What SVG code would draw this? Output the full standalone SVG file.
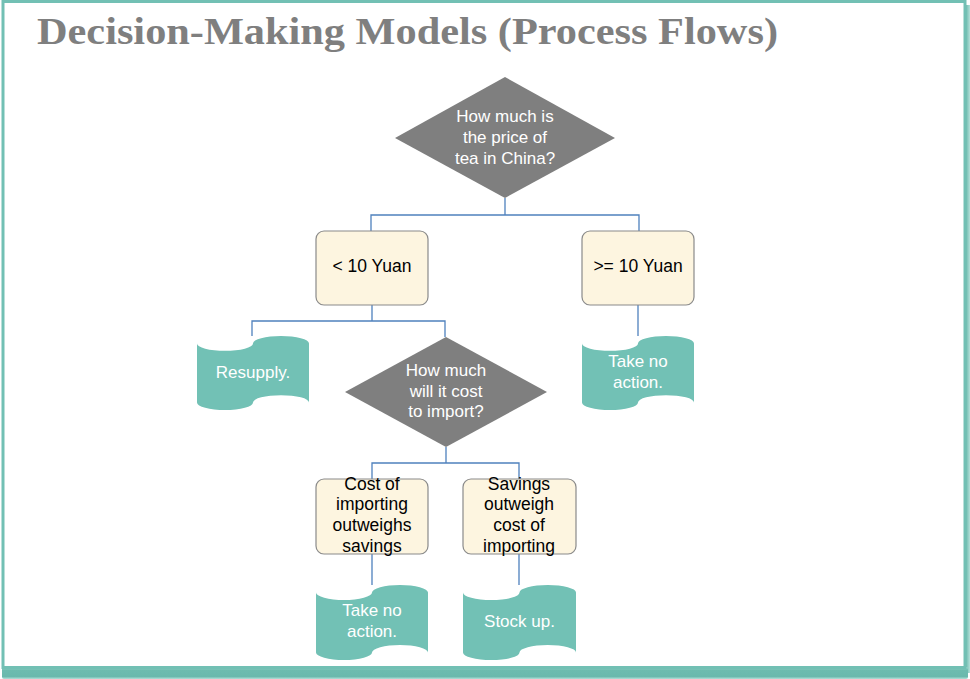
<svg xmlns="http://www.w3.org/2000/svg" width="970" height="679" viewBox="0 0 970 679">
<defs>
<linearGradient id="shB" x1="0" y1="0" x2="0" y2="1">
<stop offset="0" stop-color="#a9dcd3"/>
<stop offset="0.25" stop-color="#6dbcaf"/>
<stop offset="0.8" stop-color="#6ab9ad"/>
<stop offset="1" stop-color="#b5e0d9"/>
</linearGradient>
<linearGradient id="shR" x1="0" y1="0" x2="1" y2="0">
<stop offset="0" stop-color="#6dbcaf"/>
<stop offset="1" stop-color="#b5e0d9"/>
</linearGradient>
<style>
.dia{fill:#7f7f7f;}
.box{fill:#fdf5e0;stroke:#8a8a8a;stroke-width:1.2;}
.tape{fill:#72c1b5;}
.conn{fill:none;stroke:#4f81bd;stroke-width:1.3;}
.tw{font-family:"Liberation Sans","Noto Sans",Arial,sans-serif;font-size:17px;fill:#ffffff;text-anchor:middle;}
.tb{font-family:"Liberation Sans","Noto Sans",Arial,sans-serif;font-size:17.5px;fill:#000000;text-anchor:middle;}
.title{font-family:"Liberation Serif","Times New Roman",serif;font-weight:bold;font-size:38px;fill:#7f7f7f;}
</style>
</defs>
<g id="frame">
<rect x="966" y="5" width="4" height="668" fill="url(#shR)"/>
<rect x="2" y="667" width="966" height="12" rx="2" fill="url(#shB)"/>
<rect x="3" y="1.5" width="962" height="666" fill="#ffffff" stroke="#72c0b4" stroke-width="3"/>
</g>
<text id="title" class="title" x="37" y="44" textLength="741" lengthAdjust="spacingAndGlyphs">Decision-Making Models (Process Flows)</text>
<g id="connectors">
<path class="conn" d="M505,198 V215 M371,231 V215 H639 V231"/>
<path class="conn" d="M372,305 V321 M252,336 V321 H445 V337"/>
<path class="conn" d="M638,305 V336"/>
<path class="conn" d="M446,447 V463 M372,479 V463 H519 V479"/>
<path class="conn" d="M372,554 V585 M519,554 V585"/>
</g>
<g id="q1">
<polygon class="dia" points="505,77 615,138 505,198 395,138"/>
<text class="tw" x="505" y="122">How much is</text>
<text class="tw" x="505" y="143">the price of</text>
<text class="tw" x="505" y="164">tea in China?</text>
</g>
<g id="lt10">
<rect class="box" x="316" y="231" width="112" height="74" rx="8"/>
<text class="tb" x="372" y="272">&lt; 10 Yuan</text>
</g>
<g id="ge10">
<rect class="box" x="582" y="231" width="112" height="74" rx="8"/>
<text class="tb" x="638" y="272">&gt;= 10 Yuan</text>
</g>
<g id="resupply">
<path class="tape" d="M197,343.4 A28,7.4 0 0 0 253,343.4 A28,7.4 0 0 1 309,343.4 L309,402.6 A28,7.4 0 0 0 253,402.6 A28,7.4 0 0 1 197,402.6 Z"/>
<text class="tw" x="253" y="378">Resupply.</text>
</g>
<g id="noaction1">
<path class="tape" d="M582,343.4 A28,7.4 0 0 0 638,343.4 A28,7.4 0 0 1 694,343.4 L694,402.6 A28,7.4 0 0 0 638,402.6 A28,7.4 0 0 1 582,402.6 Z"/>
<text class="tw" x="638" y="367">Take no</text>
<text class="tw" x="638" y="388">action.</text>
</g>
<g id="q2">
<polygon class="dia" points="446,337 547,392 446,447 345,392"/>
<text class="tw" x="446" y="376">How much</text>
<text class="tw" x="446" y="397">will it cost</text>
<text class="tw" x="446" y="417">to import?</text>
</g>
<g id="costout">
<rect class="box" x="316" y="479" width="112" height="75" rx="8"/>
<text class="tb" x="372" y="489.5">Cost of</text>
<text class="tb" x="372" y="510">importing</text>
<text class="tb" x="372" y="531">outweighs</text>
<text class="tb" x="372" y="551.5">savings</text>
</g>
<g id="savout">
<rect class="box" x="463" y="479" width="113" height="75" rx="8"/>
<text class="tb" x="519" y="489.5">Savings</text>
<text class="tb" x="519" y="510">outweigh</text>
<text class="tb" x="519" y="531">cost of</text>
<text class="tb" x="519" y="551.5">importing</text>
</g>
<g id="noaction2">
<path class="tape" d="M316,592.5 A28,7.5 0 0 0 372,592.5 A28,7.5 0 0 1 428,592.5 L428,652.5 A28,7.5 0 0 0 372,652.5 A28,7.5 0 0 1 316,652.5 Z"/>
<text class="tw" x="372" y="616">Take no</text>
<text class="tw" x="372" y="637">action.</text>
</g>
<g id="stockup">
<path class="tape" d="M463,592.5 A28,7.5 0 0 0 519.5,592.5 A28,7.5 0 0 1 576,592.5 L576,652.5 A28,7.5 0 0 0 519.5,652.5 A28,7.5 0 0 1 463,652.5 Z"/>
<text class="tw" x="519.5" y="627">Stock up.</text>
</g>
</svg>
